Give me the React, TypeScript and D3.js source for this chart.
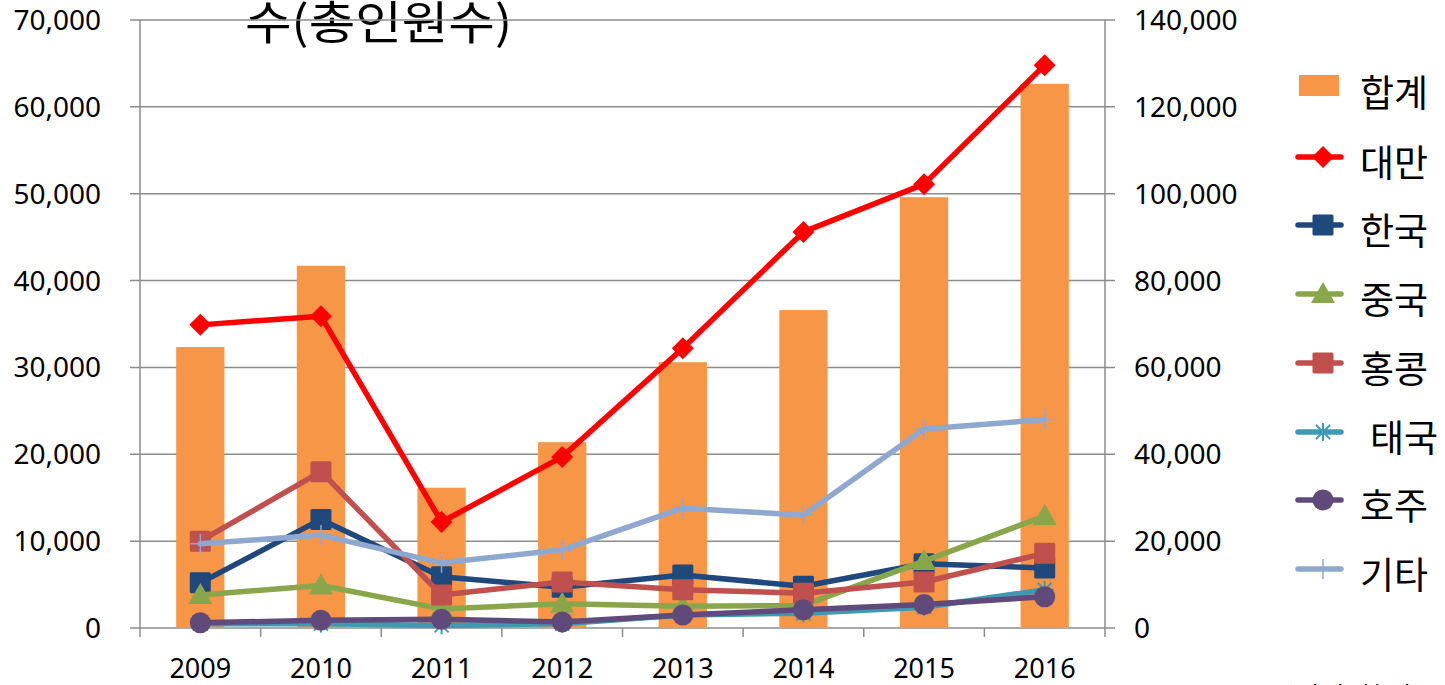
import React from "react";
import * as d3 from "d3";

const years = ["2009", "2010", "2011", "2012", "2013", "2014", "2015", "2016"];
// 합계 on the right axis
const total = [64700, 83400, 32300, 42800, 61200, 73200, 99200, 125300];
const taiwan = [34900, 35900, 12200, 19700, 32200, 45600, 51100, 64800];
const korea = [5200, 12500, 5900, 4700, 6100, 4800, 7400, 6900];
const china = [3800, 4900, 2200, 2800, 2500, 2600, 7700, 12900];
const hongkong = [10000, 18000, 3800, 5300, 4400, 4000, 5300, 8600];
const thailand = [500, 500, 300, 500, 1500, 1700, 2400, 4400];
const australia = [600, 900, 1000, 700, 1500, 2100, 2700, 3600];
const others = [9700, 10700, 7500, 9000, 13800, 13000, 22900, 24000];

const leftTicks = [0, 10000, 20000, 30000, 40000, 50000, 60000, 70000];
const rightTicks = [0, 20000, 40000, 60000, 80000, 100000, 120000, 140000];

type Marker = "diamond" | "square" | "triangle" | "asterisk" | "circle" | "plus";

const lineSeries: { name: string; values: number[]; color: string; marker: Marker }[] = [
  { name: "대만", values: taiwan, color: "#FF0000", marker: "diamond" },
  { name: "한국", values: korea, color: "#1F497D", marker: "square" },
  { name: "중국", values: china, color: "#8AA64A", marker: "triangle" },
  { name: "홍콩", values: hongkong, color: "#C0504D", marker: "square" },
  { name: "태국", values: thailand, color: "#3E9AB2", marker: "asterisk" },
  { name: "호주", values: australia, color: "#5F4A7B", marker: "circle" },
  { name: "기타", values: others, color: "#8FA8D0", marker: "plus" },
];

const W = 1445;
const H = 685;
const left = 140;
const right = 1105;
const top = 20;
const bottom = 628;

const font = "'Noto Sans', 'Noto Sans CJK KR', sans-serif";
const krFont = "'Noto Sans CJK KR', 'Noto Sans', sans-serif";
const gridColor = "#8c8c8c";

function MarkerShape({ type, x, y, color }: { type: Marker; x: number; y: number; color: string }) {
  switch (type) {
    case "diamond":
      return <path d={`M${x},${y - 11}L${x + 11},${y}L${x},${y + 11}L${x - 11},${y}Z`} fill={color} />;
    case "square":
      return <rect x={x - 10.5} y={y - 10.5} width={21} height={21} fill={color} rx={1.5} />;
    case "triangle":
      return <path d={`M${x},${y - 12}L${x + 12},${y + 9}L${x - 12},${y + 9}Z`} fill={color} />;
    case "circle":
      return <circle cx={x} cy={y} r={10.5} fill={color} />;
    case "asterisk":
      return (
        <g stroke={color} strokeWidth={2}>
          <line x1={x - 9} y1={y} x2={x + 9} y2={y} />
          <line x1={x} y1={y - 9} x2={x} y2={y + 9} />
          <line x1={x - 7} y1={y - 7} x2={x + 7} y2={y + 7} />
          <line x1={x - 7} y1={y + 7} x2={x + 7} y2={y - 7} />
        </g>
      );
    case "plus":
      return (
        <g stroke={color} strokeWidth={1.5}>
          <line x1={x - 10} y1={y} x2={x + 10} y2={y} />
          <line x1={x} y1={y - 10} x2={x} y2={y + 10} />
        </g>
      );
  }
}

export default function App() {
  const x = d3.scaleBand<string>().domain(years).range([left, right]).paddingInner(0.6).paddingOuter(0.3);
  const xStep = d3.scaleBand<string>().domain(years).range([left, right]);
  const yL = d3.scaleLinear().domain([0, 70000]).range([bottom, top]);
  const yR = d3.scaleLinear().domain([0, 140000]).range([bottom, top]);
  const cx = (d: string) => (xStep(d) ?? 0) + xStep.bandwidth() / 2;
  const fmt = d3.format(",");

  const line = d3
    .line<number>()
    .x((_, i) => cx(years[i]))
    .y((v) => yL(v));

  const legendY = [157, 225, 294, 363, 432, 500, 569];

  return (
    <svg width={W} height={H} style={{ position: "absolute", left: 0, top: 0, background: "#fff" }}>
      {/* title fragment */}
      <text x={245} y={39} fontSize={46} fontFamily={krFont} fill="#000" textLength={267} lengthAdjust="spacingAndGlyphs">
        수(총인원수)
      </text>

      {/* gridlines */}
      {leftTicks.map((t) => (
        <line key={t} x1={left - 10} x2={right + 10} y1={yL(t)} y2={yL(t)} stroke={gridColor} strokeWidth={1.5} />
      ))}
      <line x1={left} x2={left} y1={top} y2={bottom + 9} stroke={gridColor} strokeWidth={1.5} />
      <line x1={right} x2={right} y1={top} y2={bottom + 9} stroke={gridColor} strokeWidth={1.5} />
      {years.slice(1).map((yr) => (
        <line
          key={yr}
          x1={xStep(yr)}
          x2={xStep(yr)}
          y1={bottom}
          y2={bottom + 9}
          stroke={gridColor}
          strokeWidth={1.5}
        />
      ))}

      {/* axis labels */}
      {leftTicks.map((t) => (
        <text key={t} x={101} y={yL(t) + 10} textAnchor="end" fontSize={28} fontFamily={font} fill="#000">
          {fmt(t)}
        </text>
      ))}
      {rightTicks.map((t) => (
        <text key={t} x={1134} y={yR(t) + 10} fontSize={28} fontFamily={font} fill="#000">
          {fmt(t)}
        </text>
      ))}
      {years.map((yr) => (
        <text key={yr} x={cx(yr)} y={678} textAnchor="middle" fontSize={27} fontFamily={font} fill="#000">
          {yr}
        </text>
      ))}

      {/* bars */}
      {years.map((yr, i) => (
        <rect
          key={yr}
          x={x(yr)}
          y={yR(total[i])}
          width={x.bandwidth()}
          height={bottom - yR(total[i])}
          fill="#F79646"
        />
      ))}

      {/* lines */}
      {lineSeries.map((s) => (
        <g key={s.name}>
          <path
            d={line(s.values) ?? ""}
            fill="none"
            stroke={s.color}
            strokeWidth={5.5}
            strokeLinejoin="round"
            strokeLinecap="round"
          />
          {s.values.map((v, i) => (
            <MarkerShape key={i} type={s.marker} x={cx(years[i])} y={yL(v)} color={s.color} />
          ))}
        </g>
      ))}

      {/* legend */}
      <rect x={1299} y={75} width={40} height={21} fill="#F79646" />
      <text x={1360} y={91} dominantBaseline="central" fontSize={37} fontFamily={krFont} fill="#000">
        합계
      </text>
      {lineSeries.map((s, i) => (
        <g key={s.name}>
          <line
            x1={1298}
            x2={1341}
            y1={legendY[i]}
            y2={legendY[i]}
            stroke={s.color}
            strokeWidth={5.5}
            strokeLinecap="round"
          />
          <MarkerShape type={s.marker} x={1323} y={legendY[i]} color={s.color} />
          <text
            x={s.name === "태국" ? 1370 : 1360}
            y={legendY[i] + 4}
            dominantBaseline="central"
            fontSize={37}
            fontFamily={krFont}
            fill="#000"
          >
            {s.name}
          </text>
        </g>
      ))}

      {/* unit note, cut at the bottom edge */}
      <text x={1288} y={706} fontSize={26} fontFamily={krFont} fill="#000">
        (단위: 천 명)
      </text>
    </svg>
  );
}
